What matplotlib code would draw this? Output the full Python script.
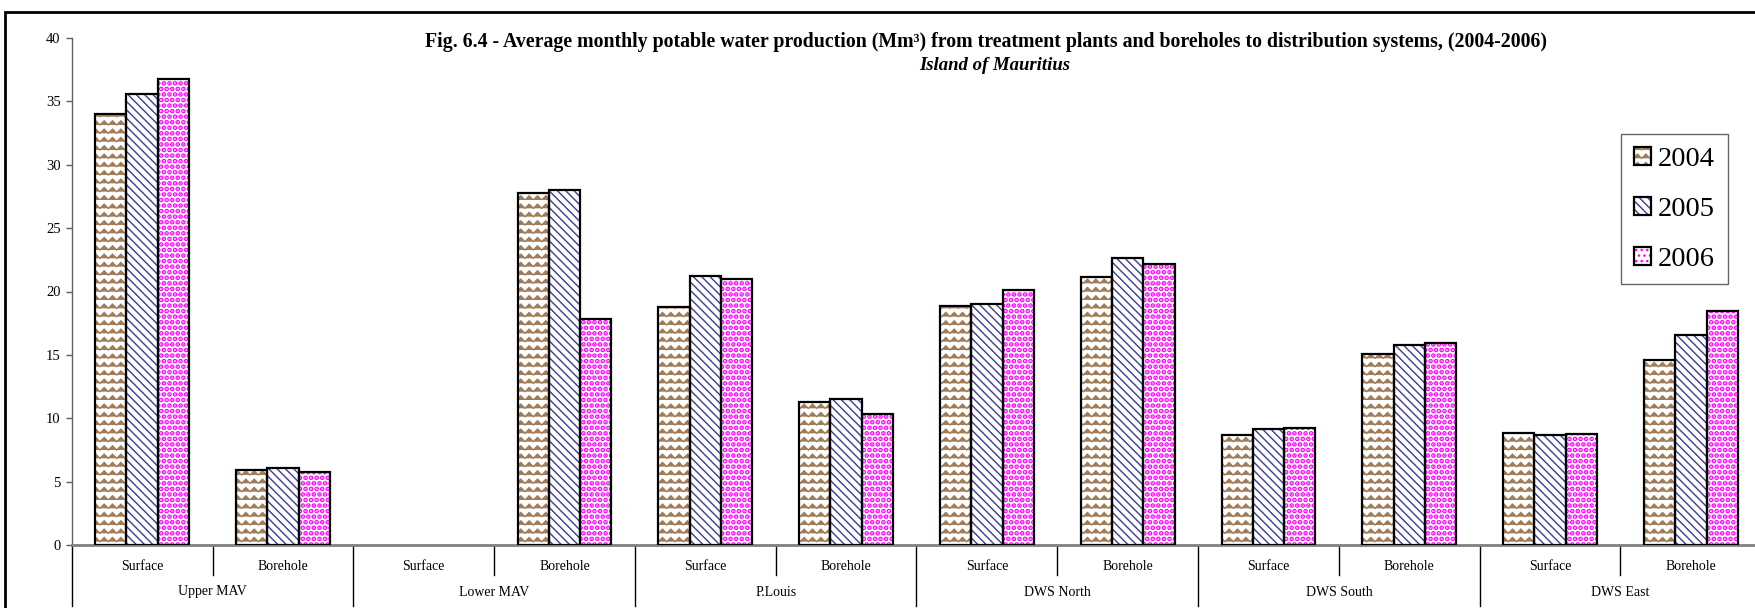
import numpy as np
import matplotlib
matplotlib.use("Agg")
import matplotlib.pyplot as plt
import matplotlib.hatch as mhatch
from matplotlib.path import Path
from matplotlib.patches import Rectangle, Patch
from matplotlib.legend_handler import HandlerTuple
from matplotlib.transforms import blended_transform_factory

plt.rcParams['font.family'] = ['Liberation Serif', 'DejaVu Serif']


# zigzag (herringbone-like) hatch, takes the place of the unused '*' pattern
class ZigZag(mhatch.HatchPatternBase):
    def __init__(self, hatch, density):
        self.num_lines = int(hatch.count('*') * density)
        self.num_vertices = self.num_lines * (2 * self.num_lines + 1)

    def set_vertices_and_codes(self, vertices, codes):
        n = self.num_lines
        xs = np.linspace(0, 1, 2 * n + 1)
        amp = 0.5 / n
        c = 0
        for i in range(n):
            y0 = i / n
            for k, xx in enumerate(xs):
                vertices[c] = (xx, y0 + (k % 2) * amp)
                codes[c] = Path.MOVETO if k == 0 else Path.LINETO
                c += 1


mhatch._hatch_types[mhatch._hatch_types.index(mhatch.Stars)] = ZigZag

# data (Mm3)
regions = ["Upper MAV", "Lower MAV", "P.Louis", "DWS North", "DWS South", "DWS East"]
sources = ["Surface", "Borehole"]
years = ["2004", "2005", "2006"]

# order: region by region, Surface then Borehole
v2004 = [34.0, 5.95, np.nan, 27.75, 18.75, 11.25, 18.85, 21.15, 8.65, 15.05, 8.8, 14.6]
v2005 = [35.6, 6.1, np.nan, 28.0, 21.25, 11.55, 19.0, 22.65, 9.15, 15.75, 8.7, 16.6]
v2006 = [36.8, 5.75, np.nan, 17.8, 20.95, 10.35, 20.15, 22.2, 9.2, 15.9, 8.75, 18.45]

colors = ["#a07c58", "#3c3c96", "#ff00ff"]
hatches = ["**", "\\\\\\\\", "..."]
hatch_lw = [1.0, 1.0, 2.4]

W, H = 1756, 608
fig = plt.figure(figsize=(W / 100, H / 100), dpi=100)
ax = fig.add_axes([71.7 / W, 1 - 545 / H, 12 * 140.8 / W, 507 / H])

n = len(v2004)
x = np.arange(n)
bw = 0.222
for i, vals in enumerate([v2004, v2005, v2006]):
    pos = x + (i - 1) * bw
    with plt.rc_context({'hatch.linewidth': hatch_lw[i]}):
        ax.bar(pos, vals, bw, facecolor="white", edgecolor=colors[i],
               hatch=hatches[i], linewidth=0, zorder=2)
    ax.bar(pos, vals, bw, fill=False, edgecolor="black", linewidth=1.6, zorder=3)

ax.set_xlim(-0.5, n - 0.5)
ax.set_ylim(0, 40)
ax.set_yticks(range(0, 41, 5))
ax.tick_params(axis='y', direction='out', length=4, width=1, colors='#606060',
               labelcolor='black', labelsize=10.5, pad=4)
ax.set_xticks([])
for s in ['top', 'right']:
    ax.spines[s].set_visible(False)
ax.spines['bottom'].set_color('#808080')
ax.spines['bottom'].set_linewidth(2)
ax.spines['left'].set_color('#606060')
ax.spines['left'].set_linewidth(1)

# two-level category axis
tr = blended_transform_factory(ax.transData, ax.transAxes)
y_src = -(567 - 545) / 507
y_src_line = -(575 - 545) / 507
y_reg = -(592 - 545) / 507
y_reg_line = -(606 - 545) / 507
for k in range(n):
    ax.text(k, y_src, sources[k % 2], transform=tr, ha='center', va='center', fontsize=10)
for k in range(1, n, 2):
    ax.plot([k - 0.5, k - 0.5], [0, y_src_line], transform=tr, color='black',
            lw=1, clip_on=False)
for r, name in enumerate(regions):
    ax.text(2 * r + 0.5, y_reg, name, transform=tr, ha='center', va='center', fontsize=10)
for k in range(0, n + 1, 2):
    ax.plot([k - 0.5, k - 0.5], [0, y_reg_line], transform=tr, color='black',
            lw=1, clip_on=False)

# titles
fig.text(986 / W, 1 - 42 / H,
         "Fig. 6.4 - Average monthly potable water production (Mm\u00b3) from treatment plants "
         "and boreholes to distribution systems, (2004-2006)",
         ha='center', va='center', fontsize=14.3, fontweight='bold')
fig.text(995 / W, 1 - 65 / H, "Island of Mauritius", ha='center', va='center',
         fontsize=13.5, fontweight='bold', fontstyle='italic')

# legend
leg_handles = []
for i in range(3):
    with plt.rc_context({'hatch.linewidth': hatch_lw[i]}):
        h = Patch(facecolor='white', edgecolor=colors[i], hatch=hatches[i], linewidth=0)
    leg_handles.append((h, Patch(fill=False, edgecolor='black', linewidth=1.6)))
leg = fig.legend(leg_handles, years, loc='upper left',
                 bbox_to_anchor=(1621 / W, 1 - 134 / H),
                 fontsize=20.5, frameon=True, fancybox=False, handlelength=0.6,
                 handleheight=0.6, handletextpad=0.25, labelspacing=0.87,
                 borderpad=0.45, borderaxespad=0,
                 handler_map={tuple: HandlerTuple(ndivide=1)})
leg.get_frame().set_edgecolor('#404040')
leg.get_frame().set_linewidth(1)

# outer frame
fig.patches.append(Rectangle((5 / W, -0.2), 1.2, 1.2 - 12 / H, transform=fig.transFigure,
                             fill=False, edgecolor='black', linewidth=2))

fig.savefig("out.png", dpi=100)
